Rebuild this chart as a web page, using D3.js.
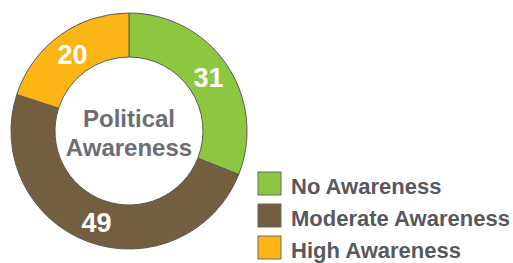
<!DOCTYPE html>
<html>
<head>
<meta charset="utf-8">
<script src="https://cdn.jsdelivr.net/npm/d3@7"></script>
<style>
body { margin: 0; background: #fff; }
text { font-family: "Liberation Sans", Arial, sans-serif; font-weight: bold; }
</style>
</head>
<body>
<script>
// data
let categories = ['No Awareness', 'Moderate Awareness', 'High Awareness'];
let values = [31, 49, 20];
let colors = ['#8dc63f', '#735f3f', '#fdb515'];
let centerLines = ['Political', 'Awareness'];

let frame = { width: 513, height: 263 };
let center = { x: 129, y: 131 };
let outerR = 118, innerR = 74;

let svg = d3.select('body')
	.append('svg')
	.attr('width', frame.width)
	.attr('height', frame.height);

let pie = d3.pie().sort(null).value(d => d);
let arc = d3.arc().innerRadius(innerR).outerRadius(outerR);
let arcs = pie(values);

let g = svg.append('g')
	.attr('transform', `translate(${center.x}, ${center.y})`);

g.selectAll('.slice')
	.data(arcs)
	.enter()
	.append('path')
	.attr('class', 'slice')
	.attr('d', arc)
	.attr('fill', (d, i) => colors[i])
	.attr('stroke', '#5a5a5a')
	.attr('stroke-width', 1);

// slice labels
g.selectAll('.lbl')
	.data(arcs)
	.enter()
	.append('text')
	.attr('class', 'lbl')
	.attr('transform', d => `translate(${arc.centroid(d)})`)
	.attr('text-anchor', 'middle')
	.attr('dy', '0.38em')
	.attr('fill', '#fff')
	.style('font-size', '27px')
	.text(d => d.value);

// centre title
g.selectAll('.title')
	.data(centerLines)
	.enter()
	.append('text')
	.attr('class', 'title')
	.attr('text-anchor', 'middle')
	.attr('y', (d, i) => -4 + i * 29)
	.attr('fill', '#6d6e71')
	.style('font-size', '24px')
	.text(d => d);

// legend
let legend = svg.append('g')
	.attr('transform', 'translate(258, 172)');

let rows = legend.selectAll('.row')
	.data(categories)
	.enter()
	.append('g')
	.attr('transform', (d, i) => `translate(0, ${i * 32})`);

rows.append('rect')
	.attr('width', 23)
	.attr('height', 23)
	.attr('fill', (d, i) => colors[i])
	.attr('stroke', '#6b6b6b')
	.attr('stroke-width', 1);

rows.append('text')
	.attr('x', 33)
	.attr('y', 22)
	.attr('fill', '#58595b')
	.style('font-size', '22px')
	.text(d => d);
</script>
</body>
</html>
